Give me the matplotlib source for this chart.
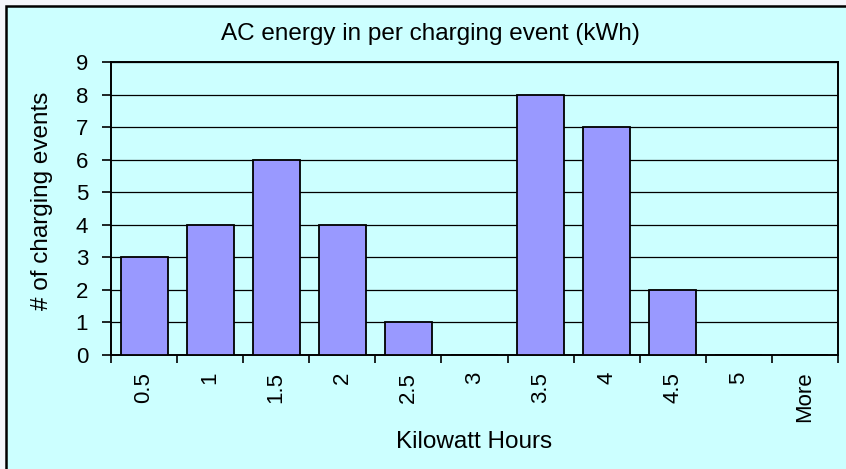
import matplotlib
matplotlib.use("Agg")
import matplotlib.pyplot as plt
from matplotlib.patches import Rectangle
import numpy as np

plt.rcParams['font.family'] = ['Liberation Sans', 'DejaVu Sans']

bins = ["0.5", "1", "1.5", "2", "2.5", "3", "3.5", "4", "4.5", "5", "More"]
counts = [3, 4, 6, 4, 1, 0, 8, 7, 2, 0, 0]

W, H = 846, 469
fig = plt.figure(figsize=(W / 100, H / 100), dpi=100, facecolor="#F4F6FB")

# chart area with black frame (runs off the right/bottom edge like the original)
fig.patches.append(Rectangle((6 / W, -0.1), 1.2, 1.1 - 6 / H,
                             transform=fig.transFigure, facecolor="#CCFFFF",
                             edgecolor="black", linewidth=1.8, zorder=-10))

ax = fig.add_axes([111 / W, 1 - 355 / H, (838 - 111) / W, (355 - 62) / H])
ax.set_zorder(2)
ax.set_facecolor("#CCFFFF")

x = np.arange(len(bins))
ax.bar(x, counts, width=0.71, color="#9999FF", edgecolor="black",
       linewidth=1.3, zorder=3)

ax.set_xlim(-0.5, len(bins) - 0.5)
ax.set_ylim(0, 9)
ax.set_yticks(range(0, 10))
ax.yaxis.grid(True, color="black", linewidth=0.9, zorder=1)
ax.set_axisbelow(True)

ax.set_xticks(x)
ax.set_xticklabels(bins, rotation=90, fontsize=16)
ax.set_xticks(np.arange(-0.5, len(bins)), minor=True)
ax.tick_params(axis="x", which="major", length=0, pad=12)
ax.tick_params(axis="x", which="minor", length=6, width=1.2, direction="out")
ax.tick_params(axis="y", length=6.5, width=1.2, pad=10, labelsize=16)

for s in ax.spines.values():
    s.set_color("black")
    s.set_linewidth(1.4)

fig.text(430 / W, 1 - 34 / H, "AC energy in per charging event (kWh)",
         ha="center", va="center", fontsize=17.5)
fig.text(474 / W, 1 - 442 / H, "Kilowatt Hours", ha="center", va="center",
         fontsize=17.5)
fig.text(42 / W, 1 - 201 / H, "# of charging events", ha="center",
         va="center", rotation=90, fontsize=17.5)

fig.savefig("out.png", dpi=100, facecolor=fig.get_facecolor())
